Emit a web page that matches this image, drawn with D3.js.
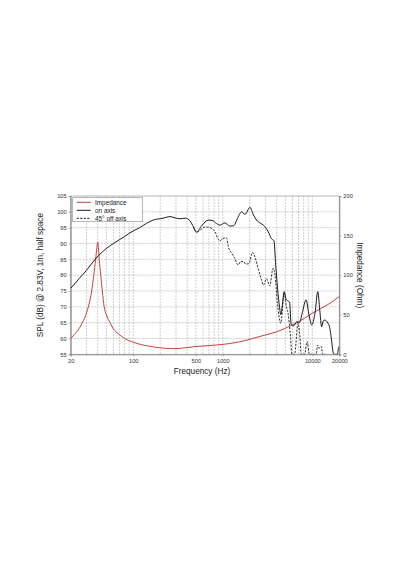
<!DOCTYPE html>
<html>
<head>
<meta charset="utf-8">
<script src="https://cdn.jsdelivr.net/npm/d3@7"></script>
<style>
  body { margin: 0; background: #fff; }
  svg { display: block; font-family: "Liberation Sans", Arial, sans-serif; }
</style>
</head>
<body>
<script>
// values
const onAxisFreq = [20, 25, 30, 37.4, 45, 52, 60, 70, 80, 92, 118, 141, 167, 216, 257, 292, 333, 379, 432, 470, 510,
  580, 690, 760, 850, 932, 1050, 1200, 1320, 1450, 1620, 1770, 2010, 2200, 2380, 2600, 2840, 3000, 3220, 3500, 3720,
  3900, 4080, 4300, 4440, 4600, 4850, 5100, 5400, 5570, 5800, 6200, 6670, 7200, 7700, 8520, 9100, 9840, 10700, 11500,
  12100, 12700, 13200, 13800, 14900, 15600, 16300, 17000, 17500, 19000, 19600, 20000];
const onAxisSpl = [75.8, 79, 81.5, 85, 87.3, 88.8, 90, 91.2, 92.2, 93.4, 95, 96.4, 97.4, 98, 98.5, 98.1, 97.8, 98, 97.1, 95.2, 93.6,
  95.6, 97.4, 97.3, 96.3, 95.8, 96.5, 95.5, 95.6, 97.8, 100, 99.2, 101.4, 99, 97.4, 96.5, 95.8, 95, 93.7, 91.5, 90.9,
  83, 76, 70, 67.5, 70, 74.8, 72.3, 71.8, 71.5, 64.5, 64, 65.3, 65, 68, 72.2, 68, 64.3, 68, 74.8,
  69, 63.7, 65.5, 65.8, 64.9, 63.5, 60, 55.8, 55, 55, 56.9, 57.5];

const offAxisFreq = [470, 510, 580, 631, 700, 818, 889, 932, 1000, 1100, 1150, 1250, 1350, 1480, 1580, 1700, 1800, 1950,
  2150, 2300, 2510, 2700, 2840, 3080, 3340, 3640, 3830, 4060, 4440, 4850, 5130, 5350, 5720, 5900, 6330, 6920, 7200,
  7530, 8200, 8720, 9300, 11000, 11500, 11900, 12600, 13000, 14000];
const offAxisSpl = [95.2, 93.6, 94.6, 95.2, 95.1, 93.7, 91.3, 90.8, 91.6, 91.8, 89, 87, 85.5, 83.2, 84.3, 84.3, 83.5, 83.6,
  87.2, 85.5, 81.6, 78.5, 76.9, 78.9, 76.6, 82.2, 80, 71.6, 64.8, 74.3, 70, 68, 60, 55, 55, 64.8, 62,
  55, 55, 59, 55, 55, 57.9, 56.9, 57.5, 55, 55];

const impFreq = [20, 22, 25, 27, 30, 31.5, 33, 34.3, 36.2, 38, 39.2, 40, 40.8, 41.7, 43.3, 45.1, 47.3, 50, 55, 60, 68, 80,
  96, 120, 147, 200, 260, 300, 400, 500, 700, 1000, 1500, 2000, 3000, 4000, 5000, 7000, 10000, 15000, 20000];
const impOhm = [20, 25, 33, 40, 52, 60, 70, 80, 100, 120, 135, 142, 135, 120, 100, 80, 60, 50, 40, 32, 26, 20,
  16, 12.5, 10.5, 8.2, 7.3, 7.2, 8.5, 9.8, 11, 12.5, 15.5, 19, 24.5, 28.5, 33, 41, 52, 63, 73];

const splTicks = [55, 60, 65, 70, 75, 80, 85, 90, 95, 100, 105];
const ohmTicks = [0, 50, 100, 150, 200];
const freqTicks = [20, 100, 500, 1000, 10000, 20000];
const legendLabels = ["Impedance", "on axis", "45\u00b0 off axis"];

let width = 400;
let height = 570;
let plotLeft = 70.7, plotRight = 339.3, plotTop = 196, plotBottom = 354.3;

let svg = d3.select("body").append("svg")
  .attr("width", width)
  .attr("height", height);

let x = d3.scaleLog().domain([20, 20000]).range([plotLeft, plotRight]);
let y = d3.scaleLinear().domain([55, 105]).range([plotBottom, plotTop]);
let yImp = d3.scaleLinear().domain([0, 200]).range([plotBottom, plotTop]);

let red = "#c0433f";
let ink = "#1a1a1a";
let gridColor = "#b6b6b6";

// grid
let gGrid = svg.append("g");
gGrid.selectAll("line.vgrid").data(x.ticks())
  .enter().append("line")
  .classed("vgrid", true)
  .attr("x1", d => x(d)).attr("x2", d => x(d))
  .attr("y1", plotTop).attr("y2", plotBottom)
  .attr("stroke", gridColor)
  .attr("stroke-width", 0.65)
  .attr("stroke-dasharray", "2,1");
gGrid.selectAll("line.hgrid").data(splTicks.slice(1, -1))
  .enter().append("line")
  .classed("hgrid", true)
  .attr("x1", plotLeft).attr("x2", plotRight)
  .attr("y1", d => y(d)).attr("y2", d => y(d))
  .attr("stroke", gridColor)
  .attr("stroke-width", 0.65)
  .attr("stroke-dasharray", "2,1");

// frame
svg.append("rect")
  .attr("x", plotLeft).attr("y", plotTop)
  .attr("width", plotRight - plotLeft).attr("height", plotBottom - plotTop)
  .attr("fill", "none")
  .attr("stroke", "#999")
  .attr("stroke-width", 0.7);

// axes
let styleAxis = (g) => {
  g.select(".domain").attr("stroke", "#888").attr("stroke-width", 0.9);
  g.selectAll(".tick line").attr("stroke", "#888").attr("stroke-width", 0.6);
  g.selectAll(".tick text").attr("fill", "#333").style("font-size", "5.7px")
    .style("font-family", "'Liberation Sans', Arial, sans-serif");
};

let xAxis = d3.axisBottom(x).tickValues(freqTicks).tickFormat(d3.format("d")).tickSize(2).tickPadding(2.5);
svg.append("g")
  .attr("transform", `translate(0, ${plotBottom})`)
  .call(xAxis)
  .call(styleAxis);

let yAxis = d3.axisLeft(y).tickValues(splTicks).tickSize(2).tickPadding(2);
svg.append("g")
  .attr("transform", `translate(${plotLeft}, 0)`)
  .call(yAxis)
  .call(styleAxis);

let yAxisRight = d3.axisRight(yImp).tickValues(ohmTicks).tickSize(2).tickPadding(2);
svg.append("g")
  .attr("transform", `translate(${plotRight}, 0)`)
  .call(yAxisRight)
  .call(styleAxis);

// axis titles
svg.append("text")
  .text("Frequency (Hz)")
  .attr("x", (plotLeft + plotRight) / 2 - 3)
  .attr("y", 374)
  .attr("text-anchor", "middle")
  .style("font-size", "8.2px")
  .attr("fill", "#1a1a1a");
svg.append("text")
  .text("SPL (dB) @ 2.83V, 1m, half space")
  .attr("text-anchor", "middle")
  .attr("transform", `translate(43, ${(plotTop + plotBottom) / 2}) rotate(-90)`)
  .style("font-size", "8.2px")
  .attr("fill", "#1a1a1a");
svg.append("text")
  .text("Impedance (Ohm)")
  .attr("text-anchor", "middle")
  .attr("transform", `translate(357, ${(plotTop + plotBottom) / 2}) rotate(90)`)
  .style("font-size", "8.2px")
  .attr("fill", "#1a1a1a");

// curves
svg.append("clipPath").attr("id", "plot-clip")
  .append("rect")
  .attr("x", plotLeft).attr("y", plotTop - 1)
  .attr("width", plotRight - plotLeft).attr("height", plotBottom - plotTop + 1);

let gCurves = svg.append("g").attr("clip-path", "url(#plot-clip)");

let splLine = d3.line()
  .x(d => x(d[0]))
  .y(d => y(d[1]))
  .curve(d3.curveMonotoneX);
let impLine = d3.line()
  .x(d => x(d[0]))
  .y(d => yImp(d[1]))
  .curve(d3.curveMonotoneX);

gCurves.append("path")
  .datum(impFreq.map((f, i) => [f, impOhm[i]]))
  .attr("d", impLine)
  .attr("fill", "none")
  .attr("stroke", red)
  .attr("stroke-width", 1);

gCurves.append("path")
  .datum(offAxisFreq.map((f, i) => [f, offAxisSpl[i]]))
  .attr("d", splLine)
  .attr("fill", "none")
  .attr("stroke", ink)
  .attr("stroke-width", 0.9)
  .attr("stroke-dasharray", "2.2,1.3");

gCurves.append("path")
  .datum(onAxisFreq.map((f, i) => [f, onAxisSpl[i]]))
  .attr("d", splLine)
  .attr("fill", "none")
  .attr("stroke", ink)
  .attr("stroke-width", 1);

// legend
let legend = svg.append("g");
legend.append("rect")
  .attr("x", 72.7).attr("y", 197.7)
  .attr("width", 70).attr("height", 24)
  .attr("fill", "#fff")
  .attr("stroke", "#888")
  .attr("stroke-width", 0.6);
let legendStroke = [red, ink, ink];
let legendDash = [null, null, "2.2,1.3"];
let legendRow = legend.selectAll("g.legend-row").data(legendLabels)
  .enter().append("g")
  .classed("legend-row", true)
  .attr("transform", (d, i) => `translate(0, ${202.3 + i * 8})`);
legendRow.append("line")
  .attr("x1", 76.7).attr("x2", 90.7)
  .attr("stroke", (d, i) => legendStroke[i])
  .attr("stroke-width", 1)
  .attr("stroke-dasharray", (d, i) => legendDash[i]);
legendRow.append("text")
  .text(d => d)
  .attr("x", 95)
  .attr("dy", "0.35em")
  .style("font-size", "6.4px")
  .attr("fill", "#1a1a1a");
</script>
</body>
</html>
